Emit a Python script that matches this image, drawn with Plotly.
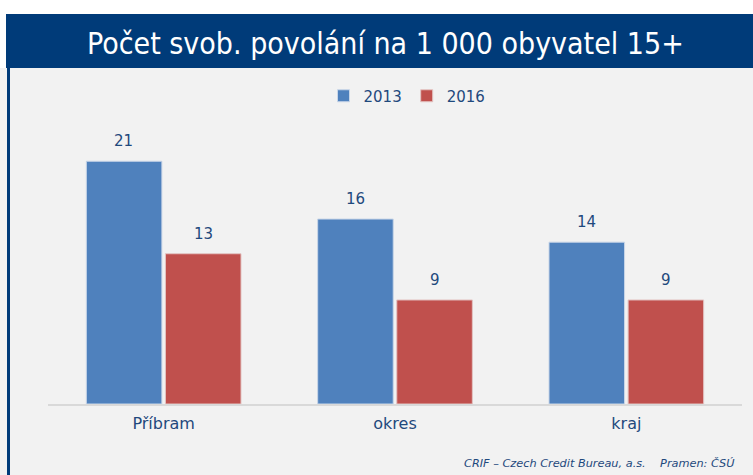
import plotly.graph_objects as go

categories = ["Příbram", "okres", "kraj"]
values_2013 = [21, 16, 14]
values_2016 = [13, 9, 9]
series_names = ["2013", "2016"]

TEXT = "#1f497d"
NAVY = "#003b79"
PANEL = "#f2f2f2"

fig = go.Figure()
fig.add_trace(go.Bar(
    x=categories, y=values_2013, name=series_names[0],
    marker=dict(color="#4f81bd", line=dict(color="#c9d6e8", width=1)),
))
fig.add_trace(go.Bar(
    x=categories, y=values_2016, name=series_names[1],
    marker=dict(color="#c0504d", line=dict(color="#e3c4c3", width=1)),
))

annotations = []
for vals, shift in ((values_2013, -40), (values_2016, 40)):
    for c, v in zip(categories, vals):
        annotations.append(dict(
            x=c, y=v, xref="x", yref="y", text=str(v), showarrow=False,
            xshift=shift, yshift=20, yanchor="middle",
            font=dict(family="DejaVu Sans", size=15, color=TEXT)))

H = 284.0
W = 694.0
annotations += [
    dict(text="Počet svob. povolání na 1 000 obyvatel 15+", xref="paper", yref="paper",
         x=(385-48)/W, y=1 + (120-43)/H, xanchor="center", yanchor="middle",
         showarrow=False, font=dict(family="DejaVu Sans Condensed", size=30, color="white")),
    dict(text="<i>CRIF – Czech Credit Bureau, a.s.    Pramen: ČSÚ</i>", xref="paper", yref="paper",
         x=(737-48)/W, y=-(463-404)/H, xanchor="right", yanchor="middle",
         showarrow=False, font=dict(family="DejaVu Sans", size=11.3, color=TEXT)),
]

fig.update_layout(
    width=753, height=475,
    margin=dict(l=48, r=11, t=120, b=71, autoexpand=False),
    paper_bgcolor="white",
    plot_bgcolor=PANEL,
    barmode="group",
    bargap=0.316,
    bargroupgap=0.045,
    font=dict(family="DejaVu Sans", color=TEXT),
    showlegend=True,
    legend=dict(orientation="h", x=(407-48)/W, xanchor="center", y=1 - 96/475.0, yref="container",
                yanchor="middle", font=dict(size=15, color=TEXT),
                bgcolor="rgba(0,0,0,0)", traceorder="normal"),
    xaxis=dict(showline=True, linecolor="#d9d9d9", linewidth=2, ticks="",
               tickfont=dict(size=16, color=TEXT), showgrid=False, zeroline=False,
               ticklabelstandoff=4),
    yaxis=dict(range=[0, H / 11.56], visible=False, showgrid=False, zeroline=False),
    shapes=[
        dict(type="rect", xref="paper", yref="paper", x0=-48/W, x1=(753-48)/W,
             y0=-71/H, y1=1 + (120-68)/H,
             fillcolor=PANEL, line=dict(width=0), layer="below"),
        dict(type="rect", xref="paper", yref="paper", x0=(6-48)/W, x1=(753-48)/W,
             y0=1 + (120-68)/H, y1=1 + (120-14)/H,
             fillcolor=NAVY, line=dict(width=0), layer="below"),
        dict(type="rect", xref="paper", yref="paper", x0=(7-48)/W, x1=(10-48)/W,
             y0=-71/H, y1=1 + (120-68)/H,
             fillcolor=NAVY, line=dict(width=0), layer="below"),
    ],
    annotations=annotations,
)

fig.write_html("out.html", config={"displayModeBar": False},
               post_script="document.body.style.margin='0';document.body.style.overflow='hidden';")
